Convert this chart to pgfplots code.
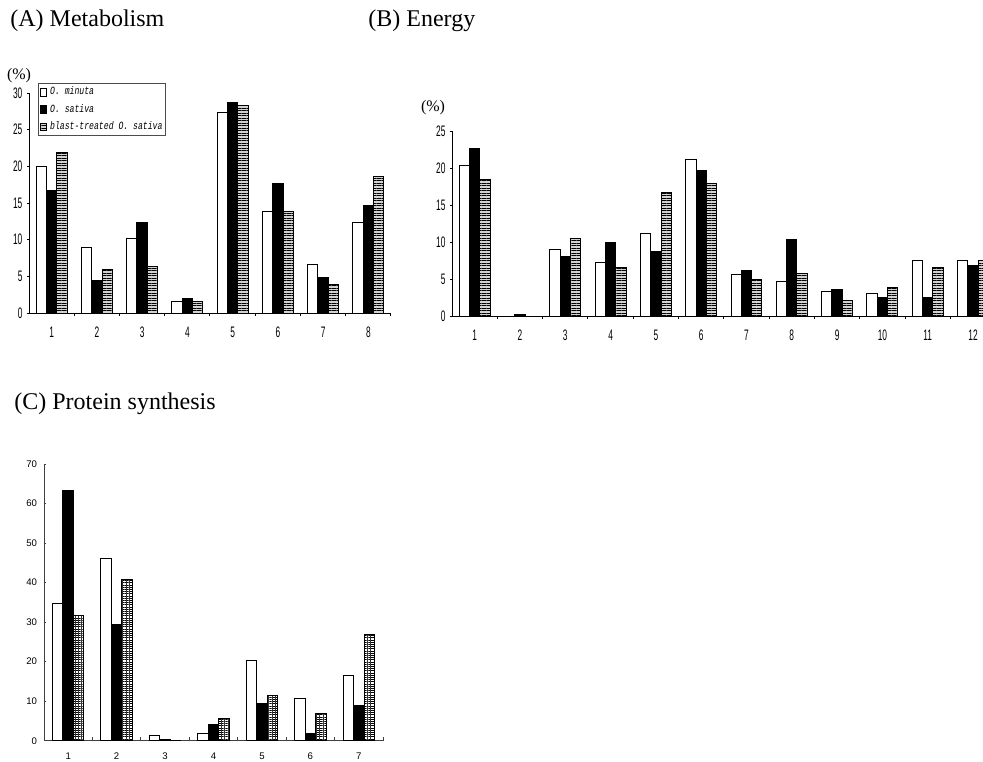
\documentclass[border=0pt]{standalone}
\usepackage{fontspec}
\setmainfont{Liberation Serif}
\usepackage{pgfplots}
\pgfplotsset{compat=1.18}
\usetikzlibrary{patterns.meta}
\newfontfamily\tickfont[FakeStretch=0.55]{Liberation Sans}
\newfontfamily\legfont[FakeStretch=0.74]{Liberation Mono}
\newfontfamily\cfont{Liberation Sans}

\pgfplotsset{
  legsq/.style={legend image code/.code={\draw[##1, line width=0.4pt] (0.4pt,-1.9pt) rectangle (3pt,1.9pt); \path (4.2pt,0pt);}},
  whitebar/.style={draw=black, fill=white, line width=0.5pt, legsq},
  blackbar/.style={draw=black, fill=black, line width=0.5pt, legsq},
  hatchAB/.style={draw=black, fill=gray!35, line width=0.5pt, legsq,
    postaction={pattern={Lines[angle=0,distance=1.25pt,line width=0.5pt]}, pattern color=black}},
  hatchC/.style={draw=black, fill=white, line width=0.5pt,
    postaction={pattern={Lines[angle=0,distance=1.1pt,line width=0.4pt]}, pattern color=black},
    postaction={pattern={Lines[angle=90,distance=1.7pt,line width=0.3pt]}, pattern color=black!80}},
  barAB/.style={
    scale only axis, ybar=0pt, bar width=5.15pt, ymin=0, xmin=0.5,
    axis x line=bottom, axis y line=left,
    axis line style={-, black, line width=0.5pt},
    tick align=outside, major tick length=1.1pt, minor tick length=1.6pt,
    every tick/.style={black, line width=0.5pt},
    major x tick style={draw=none},
    /pgf/number format/assume math mode=true,
    tick label style={font=\tickfont\fontsize{7.6}{8}\selectfont},
    yticklabel style={inner sep=0pt, xshift=-2pt},
    xticklabel style={inner sep=0pt, yshift=-5.5pt},
  },
}

\begin{document}
\begin{tikzpicture}
\useasboundingbox (0pt,0pt) rectangle (491.5pt,-380.5pt);

% titles
\node[anchor=base west, inner sep=0pt, font=\fontsize{12}{14}\selectfont] at (5pt,-13pt) {(A) Metabolism};
\node[anchor=base west, inner sep=0pt, font=\fontsize{12}{14}\selectfont] at (184pt,-13pt) {(B) Energy};
\node[anchor=base west, inner sep=0pt, font=\fontsize{12}{14}\selectfont] at (7pt,-204.5pt) {(C) Protein synthesis};
\node[inner sep=0pt, font=\fontsize{8}{9}\selectfont] at (9.5pt,-38pt) {(\%)};
\node[inner sep=0pt, font=\fontsize{8}{9}\selectfont] at (216.5pt,-54pt) {(\%)};

% (A) Metabolism
\begin{axis}[barAB, at={(14.5pt,-156.5pt)}, anchor=south west,
  width=181pt, height=110pt, xmax=8.5, ymax=30,
  xtick={1,...,8}, minor xtick={1.5,2.5,...,8.5},
  ytick={0,5,...,30},
  legend style={at={(axis description cs:0.025,1.045)}, anchor=north west,
    draw=black!70, line width=0.4pt, fill=white,
    font=\legfont\itshape\fontsize{5.5}{6}\selectfont,
    inner xsep=1pt, inner ysep=1pt, row sep=2pt,
    nodes={inner sep=0.6pt}},
  legend cell align=left]
\addplot[whitebar] coordinates {(1,20.0) (2,8.9) (3,10.2) (4,1.6) (5,27.4) (6,13.9) (7,6.6) (8,12.3)};
\addplot[blackbar] coordinates {(1,16.7) (2,4.45) (3,12.4) (4,1.95) (5,28.7) (6,17.6) (7,4.9) (8,14.7)};
\addplot[hatchAB] coordinates {(1,21.9) (2,6.0) (3,6.3) (4,1.6) (5,28.3) (6,13.9) (7,3.95) (8,18.6)};
\legend{O. minuta, O. sativa, blast-treated O. sativa}
\end{axis}

% (B) Energy
\begin{axis}[barAB, at={(226pt,-158pt)}, anchor=south west,
  width=265.5pt, height=92.5pt, xmax=12.22, ymax=25,
  xtick={1,...,12}, minor xtick={1.5,2.5,...,11.5},
  ytick={0,5,...,25}]
\addplot[whitebar] coordinates {(1,20.4) (2,0) (3,9.05) (4,7.2) (5,11.1) (6,21.1) (7,5.6) (8,4.7) (9,3.3) (10,3.0) (11,7.5) (12,7.5)};
\addplot[blackbar] coordinates {(1,22.6) (2,0.27) (3,8.0) (4,10.0) (5,8.7) (6,19.6) (7,6.1) (8,10.3) (9,3.6) (10,2.55) (11,2.55) (12,6.8)};
\addplot[hatchAB] coordinates {(1,18.4) (2,0) (3,10.5) (4,6.6) (5,16.7) (6,17.9) (7,5.0) (8,5.7) (9,2.1) (10,3.9) (11,6.6) (12,7.5)};
\end{axis}

% (C) Protein synthesis
\begin{axis}[scale only axis, at={(22pt,-370.35pt)}, anchor=south west,
  width=169.5pt, height=138.35pt,
  ybar=0pt, bar width=5.25pt, ymin=0, ymax=70, xmin=0.5, xmax=7.5,
  axis x line=bottom, axis y line=left,
  axis line style={-, black!75, line width=0.5pt},
  tick align=inside, major tick length=1pt, minor tick length=1.7pt,
  every tick/.style={black!75, line width=0.5pt},
  major x tick style={draw=none},
  xtick={1,...,7}, minor xtick={1.5,2.5,...,7.5},
  ytick={0,10,...,70},
  /pgf/number format/assume math mode=true,
  tick label style={font=\cfont\fontsize{4.8}{5}\selectfont},
  yticklabel style={inner sep=0pt, xshift=-3.3pt},
  xticklabel style={inner sep=0pt, yshift=-6pt}]
\addplot[whitebar] coordinates {(1,34.7) (2,46.1) (3,1.35) (4,1.85) (5,20.2) (6,10.8) (7,16.4)};
\addplot[blackbar] coordinates {(1,63.2) (2,29.5) (3,0.3) (4,4.1) (5,9.3) (6,1.85) (7,8.9)};
\addplot[hatchC] coordinates {(1,31.7) (2,40.8) (3,0) (4,5.6) (5,11.5) (6,6.9) (7,26.8)};
\end{axis}
\end{tikzpicture}
\end{document}
